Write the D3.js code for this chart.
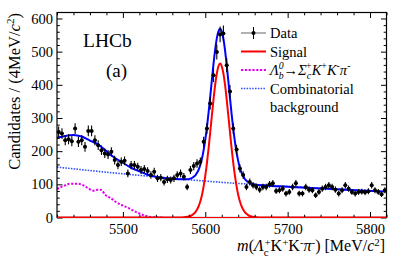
<!DOCTYPE html>
<html>
<head>
<meta charset="utf-8">
<script src="https://cdn.jsdelivr.net/npm/d3@7"></script>
<style>
  body { margin: 0; background: #fff; }
  svg, svg text, svg tspan { font-family: "Liberation Serif", "Times New Roman", Times, serif !important; fill: #000; }
</style>
</head>
<body>
<script>

// LHCb mass fit - m(Lc K K pi)

const PLOT = { LEFT: 57, RIGHT: 386.5, TOP: 12.5, BOTTOM: 217.5 }
const WIDTH = 407
const HEIGHT = 260
const SERIF = "'Liberation Serif', 'Times New Roman', Times, serif"

// data: candidates per 4 MeV bin, bins start at 5420
const binStart = 5420
const binWidth = 4
const counts = [
    258, 253, 233, 236, 230, 268, 228, 233, 213, 261,
    261, 233, 218, 203, 193, 190, 198, 173, 158, 168,
    171, 133, 158, 158, 153, 143, 146, 140, 128, 138,
    118, 120, 107, 115, 113, 118, 128, 133, 123, 92,
    143, 155, 163, 168, 228, 268, 344, 429, 499, 552,
    555, 459, 380, 268, 205, 148, 128, 92, 107, 97,
    92, 84, 92, 92, 100, 103, 80, 82, 87, 72,
    77, 92, 103, 72, 72, 92, 84, 82, 67, 77,
    87, 92, 97, 92, 84, 72, 82, 97, 87, 77,
    72, 77, 78, 76, 79, 97, 82, 77, 70, 82
]

// fit components
const totalMass = [5420, 5430, 5440, 5450, 5460, 5470, 5480, 5490, 5500, 5510, 5520, 5530, 5540, 5550, 5560, 5570, 5574, 5578, 5582, 5586, 5588, 5590, 5592, 5594, 5596, 5598, 5600, 5602, 5604, 5606, 5608, 5610, 5612, 5614, 5616, 5618, 5620, 5622, 5624, 5626, 5628, 5630, 5632, 5634, 5636, 5638, 5640, 5642, 5644, 5646, 5648, 5650, 5652, 5656, 5662, 5670, 5720, 5770, 5820]
const totalVal = [240, 246, 249, 244, 232, 220, 200, 180, 165, 150, 139, 129, 123, 119, 117, 115, 115, 115, 117, 123, 127, 135, 144, 159, 178, 203, 235, 272, 316, 364, 414, 463, 506, 540, 561, 569, 561, 539, 504, 460, 411, 360, 311, 267, 228, 196, 170, 150, 135, 125, 116, 111, 107, 102, 99, 97, 90, 84, 78]

const signalMass = [5420, 5564, 5570, 5574, 5578, 5580, 5582, 5584, 5586, 5588, 5590, 5592, 5594, 5596, 5598, 5600, 5602, 5604, 5606, 5608, 5610, 5612, 5614, 5616, 5618, 5620, 5622, 5624, 5626, 5628, 5630, 5632, 5634, 5636, 5638, 5640, 5642, 5644, 5646, 5648, 5650, 5652, 5654, 5656, 5658, 5662, 5666, 5672, 5820]
const signalVal = [0, 0, 0.3, 0.8, 2, 3, 4.5, 7, 11, 16, 24, 34, 49, 68, 94, 126, 164, 208, 257, 307, 356, 400, 434, 456, 464, 456, 434, 400, 356, 307, 257, 208, 164, 126, 94, 68, 49, 34, 24, 16, 11, 7, 4.5, 3, 2, 0.8, 0.3, 0, 0]

const lambdabMass = [5420, 5428, 5436, 5444, 5452, 5458, 5464, 5470, 5474, 5478, 5486, 5492, 5500, 5508, 5514, 5520, 5526, 5532, 5540, 5550]
const lambdabVal = [86, 95, 102, 102, 97, 88, 81, 84, 83, 70, 57, 46, 36, 27, 19, 12, 6, 2.5, 0.5, 0]

const combMass = [5420, 5470, 5520, 5570, 5620, 5670, 5720, 5770, 5820]
const combVal = [152, 139, 127, 116, 106, 98, 91, 84, 78]

const xTicks = [5500, 5600, 5700, 5800]
const yTicks = [0, 100, 200, 300, 400, 500, 600]

const svg = d3.select("body").append("svg")
    .attr("width", WIDTH)
    .attr("height", HEIGHT)
    .style("font-family", SERIF)

svg.append("rect").attr("width", WIDTH).attr("height", HEIGHT).attr("fill", "#fff")

const x = d3.scaleLinear().domain([5420, 5820]).range([PLOT.LEFT, PLOT.RIGHT])
const y = d3.scaleLinear().domain([0, 618]).range([PLOT.BOTTOM, PLOT.TOP])

svg.append("clipPath").attr("id", "clip")
    .append("rect")
    .attr("x", PLOT.LEFT).attr("y", PLOT.TOP)
    .attr("width", PLOT.RIGHT - PLOT.LEFT).attr("height", PLOT.BOTTOM - PLOT.TOP)

const curves = svg.append("g").attr("clip-path", "url(#clip)")

const line = d3.line()
    .x(d => x(d[0]))
    .y(d => y(d[1]))
    .curve(d3.curveMonotoneX)

const pairs = (m, v) => m.map((d, i) => [d, v[i]])

// combinatorial
curves.append("path")
    .attr("d", line(pairs(combMass, combVal)))
    .attr("fill", "none")
    .attr("stroke", "#2f4fff")
    .attr("stroke-width", 1.6)
    .attr("stroke-dasharray", "1.5,1.3")

// Lb -> Sigma_c K K pi
curves.append("path")
    .attr("d", line(pairs(lambdabMass, lambdabVal)))
    .attr("fill", "none")
    .attr("stroke", "#e600f0")
    .attr("stroke-width", 2)
    .attr("stroke-dasharray", "2.2,1.6")

// signal
curves.append("path")
    .attr("d", line(pairs(signalMass, signalVal)))
    .attr("fill", "none")
    .attr("stroke", "#ff0000")
    .attr("stroke-width", 2)

// total fit
curves.append("path")
    .attr("d", line(pairs(totalMass, totalVal)))
    .attr("fill", "none")
    .attr("stroke", "#0000ff")
    .attr("stroke-width", 2)

// data points with errors
const points = svg.append("g").attr("class", "data")
counts.forEach((n, i) => {
    const m = binStart + binWidth * (i + 0.5)
    const err = Math.sqrt(n)
    points.append("line")
        .attr("x1", x(m)).attr("x2", x(m))
        .attr("y1", y(n - err)).attr("y2", y(n + err))
        .attr("stroke", "#000").attr("stroke-width", 1.1)
    points.append("line")
        .attr("x1", x(m - binWidth / 2)).attr("x2", x(m + binWidth / 2))
        .attr("y1", y(n)).attr("y2", y(n))
        .attr("stroke", "#000").attr("stroke-width", 1.1)
    points.append("circle")
        .attr("cx", x(m)).attr("cy", y(n))
        .attr("r", 2)
        .attr("fill", "#000")
})

// axes - ticks point inwards, like ROOT
const minorX = d3.range(5420, 5821, 20).filter(d => d % 100 !== 0)
const minorY = d3.range(0, 618, 20).filter(d => d % 100 !== 0)

const axisG = svg.append("g").attr("class", "axes")

axisG.append("g")
    .attr("transform", `translate(0, ${PLOT.BOTTOM})`)
    .call(d3.axisBottom(x).tickValues(xTicks).tickSizeInner(-5.5).tickSizeOuter(0).tickPadding(6).tickFormat(d3.format("d")))
axisG.append("g")
    .attr("transform", `translate(0, ${PLOT.BOTTOM})`)
    .call(d3.axisBottom(x).tickValues(minorX).tickSize(-2.8).tickFormat(""))
axisG.append("g")
    .attr("transform", `translate(0, ${PLOT.TOP})`)
    .call(d3.axisTop(x).tickValues(xTicks).tickSize(-5.5).tickFormat(""))
axisG.append("g")
    .attr("transform", `translate(0, ${PLOT.TOP})`)
    .call(d3.axisTop(x).tickValues(minorX).tickSize(-2.8).tickFormat(""))

axisG.append("g")
    .attr("transform", `translate(${PLOT.LEFT}, 0)`)
    .call(d3.axisLeft(y).tickValues(yTicks).tickSizeInner(-5.5).tickSizeOuter(0).tickPadding(4))
axisG.append("g")
    .attr("transform", `translate(${PLOT.LEFT}, 0)`)
    .call(d3.axisLeft(y).tickValues(minorY).tickSize(-2.8).tickFormat(""))
axisG.append("g")
    .attr("transform", `translate(${PLOT.RIGHT}, 0)`)
    .call(d3.axisRight(y).tickValues(yTicks).tickSize(-5.5).tickFormat(""))
axisG.append("g")
    .attr("transform", `translate(${PLOT.RIGHT}, 0)`)
    .call(d3.axisRight(y).tickValues(minorY).tickSize(-2.8).tickFormat(""))

axisG.selectAll(".domain").remove()
axisG.selectAll("g").attr("font-family", SERIF)
axisG.selectAll("text")
    .attr("font-family", SERIF)
    .attr("font-size", "14.5px")
axisG.selectAll(".tick line").attr("stroke", "#000")

svg.append("rect")
    .attr("x", PLOT.LEFT).attr("y", PLOT.TOP)
    .attr("width", PLOT.RIGHT - PLOT.LEFT).attr("height", PLOT.BOTTOM - PLOT.TOP)
    .attr("fill", "none").attr("stroke", "#000").attr("stroke-width", 1.2)

// signal sits on zero along the bottom frame
svg.append("line")
    .attr("x1", x(5420)).attr("x2", x(5820))
    .attr("y1", y(0)).attr("y2", y(0))
    .attr("stroke", "#ff0000").attr("stroke-width", 1)

// rich text helper: parts with sub / sup / italic
function richText(sel, parts, fs, supShift = 0.38) {
    let cur = 0
    parts.forEach(p => {
        const target = p.sub ? fs * 0.3 : p.sup ? -fs * supShift : 0
        const ts = sel.append("tspan").attr("dy", target - cur).text(p.t)
        if (p.sub || p.sup) ts.attr("font-size", fs * 0.68 + "px")
        if (p.it) ts.attr("font-style", "italic")
        if (p.dx) ts.attr("dx", p.dx)
        cur = target
    })
}

// axis titles
const yTitle = svg.append("text")
    .attr("transform", "translate(20, 13) rotate(-90)")
    .attr("text-anchor", "end")
    .attr("font-family", SERIF)
    .attr("font-size", "16.5px")
richText(yTitle, [
    { t: "Candidates / (4MeV/" }, { t: "c", it: true }, { t: "2", sup: true }, { t: ")" }
], 16.5)

const xTitle = svg.append("text")
    .attr("x", 385)
    .attr("y", 251)
    .attr("text-anchor", "end")
    .attr("font-family", SERIF)
    .attr("font-size", "16px")
richText(xTitle, [
    { t: "m", it: true }, { t: "(" }, { t: "Λ", it: true }, { t: "c", sub: true },
    { t: "+", sup: true, dx: -4 }, { t: "K" }, { t: "+", sup: true }, { t: "K" }, { t: "-", sup: true },
    { t: "π", it: true }, { t: "-", sup: true }, { t: ") [MeV/" }, { t: "c", it: true }, { t: "2", sup: true }, { t: "]" }
], 16, 0.32)

// LHCb label
svg.append("text")
    .attr("x", 83).attr("y", 47)
    .attr("font-family", SERIF)
    .attr("font-size", "19.5px")
    .text("LHCb")
svg.append("text")
    .attr("x", 116.5).attr("y", 77)
    .attr("text-anchor", "middle")
    .attr("font-family", SERIF)
    .attr("font-size", "19px")
    .text("(a)")

// legend
const LEG = { X1: 241, X2: 266, TX: 270, FS: 14.5 }
const legend = svg.append("g").attr("class", "legend")
const rowY = [33, 51.5, 70, 88.5]

legend.append("line")
    .attr("x1", LEG.X1).attr("x2", LEG.X2).attr("y1", rowY[0]).attr("y2", rowY[0])
    .attr("stroke", "#999").attr("stroke-width", 1.5)
legend.append("line")
    .attr("x1", (LEG.X1 + LEG.X2) / 2).attr("x2", (LEG.X1 + LEG.X2) / 2)
    .attr("y1", rowY[0] - 6).attr("y2", rowY[0] + 6)
    .attr("stroke", "#000").attr("stroke-width", 1)
legend.append("circle")
    .attr("cx", (LEG.X1 + LEG.X2) / 2).attr("cy", rowY[0]).attr("r", 2).attr("fill", "#000")

legend.append("line")
    .attr("x1", LEG.X1).attr("x2", LEG.X2).attr("y1", rowY[1]).attr("y2", rowY[1])
    .attr("stroke", "#ff0000").attr("stroke-width", 2)
legend.append("line")
    .attr("x1", LEG.X1).attr("x2", LEG.X2).attr("y1", rowY[2]).attr("y2", rowY[2])
    .attr("stroke", "#e600f0").attr("stroke-width", 2).attr("stroke-dasharray", "2.2,1.6")
legend.append("line")
    .attr("x1", LEG.X1).attr("x2", LEG.X2).attr("y1", rowY[3]).attr("y2", rowY[3])
    .attr("stroke", "#2f4fff").attr("stroke-width", 1.6).attr("stroke-dasharray", "1.5,1.3")

const legText = (yy) => legend.append("text")
    .attr("x", LEG.TX).attr("y", yy + 5)
    .attr("font-family", SERIF)
    .attr("font-size", LEG.FS + "px")

legText(rowY[0]).text("Data")
legText(rowY[1]).text("Signal")
richText(legText(rowY[2]), [
    { t: "Λ", it: true }, { t: "b", sub: true, it: true }, { t: "0", sup: true, it: true, dx: -5 },
    { t: "→" }, { t: "Σ", it: true }, { t: "c", sub: true, it: true }, { t: "+", sup: true, dx: -5 },
    { t: "K", it: true }, { t: "+", sup: true }, { t: "K", it: true }, { t: "-", sup: true },
    { t: "π", it: true }, { t: "-", sup: true }
], LEG.FS)
legText(rowY[3]).text("Combinatorial")
legText(rowY[3] + 18.5).text("background")

</script>
</body>
</html>
